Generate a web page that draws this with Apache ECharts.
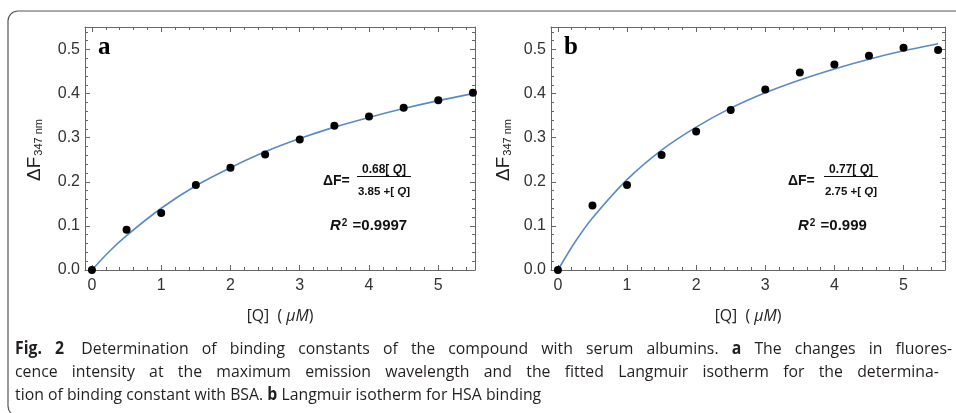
<!DOCTYPE html>
<html><head><meta charset="utf-8">
<script src="https://cdn.jsdelivr.net/npm/echarts@6/dist/echarts.min.js"></script>
<style>html,body{margin:0;padding:0;background:#fff}#c{width:956px;height:413px}</style>
</head><body><div id="c"></div>
<script>
// ---- data ----
const concentrations = [0, 0.5, 1, 1.5, 2, 2.5, 3, 3.5, 4, 4.5, 5, 5.5];
const bsaValues = [0, 0.091, 0.129, 0.193, 0.232, 0.262, 0.296, 0.327, 0.348, 0.368, 0.385, 0.402];
const hsaValues = [0, 0.146, 0.193, 0.261, 0.314, 0.363, 0.409, 0.448, 0.466, 0.486, 0.504, 0.499];
// fitted curves
const fitX = [0, 0.25, 0.5, 1, 1.5, 2, 2.5, 3, 3.5, 4, 4.5, 5, 5.5];
const bsaFit = [0, 0.042, 0.078, 0.140, 0.191, 0.232, 0.268, 0.298, 0.324, 0.346, 0.366, 0.384, 0.400];
const hsaFit = [0, 0.064, 0.118, 0.205, 0.272, 0.324, 0.367, 0.402, 0.431, 0.456, 0.478, 0.497, 0.513];
const panelLetters = ['a', 'b'];
const equationNumerators = ['0.68', '0.77'];
const equationDenominators = ['3.85', '2.75'];
const rSquared = ['0.9997', '0.999'];
const xTitle = '[Q]';
const yTitleMain = 'ΔF';
const yTitleSub = '347 nm';
// caption: lines of [text, bold] tokens
const captionLines = [
  [['Fig. 2', true], ['Determination of binding constants of the compound with serum albumins.', false], ['a', true], ['The changes in fluores-', false]],
  [['cence intensity at the maximum emission wavelength and the fitted Langmuir isotherm for the determina-', false]],
  [['tion of binding constant with BSA.', false], ['b', true], ['Langmuir isotherm for HSA binding', false]]
];

const FRAME = '#666';
const LABEL = '#333';
const FIT = '#5A8AC6';
const SANS = 'Liberation Sans, Arial, sans-serif';
const CAPFACE = 'Open Sans, sans-serif';
const CAPSIZE = 17;
const CAPSCALE = 0.93;

const cv = document.createElement('canvas').getContext('2d');
function w(font, t) { cv.font = font; return cv.measureText(t).width; }

const grids = [
  {left: 85, top: 27, width: 390, height: 243, xmax: 5.53},
  {left: 551, top: 27, width: 394, height: 243, xmax: 5.6}
];

function xAxisCfg(gi, xmax, pos) {
  return {
    type: 'value', gridIndex: gi, position: pos, min: -0.1, max: xmax, splitNumber: 5,
    axisLine: {show: true, onZero: false, lineStyle: {color: FRAME, width: 1}},
    axisTick: {show: true, inside: true, length: 5, lineStyle: {color: FRAME}},
    minorTick: {show: true, splitNumber: 5, length: 3, lineStyle: {color: FRAME}},
    splitLine: {show: false},
    axisLabel: {show: pos === 'bottom', showMinLabel: false, showMaxLabel: false, margin: 8,
      color: LABEL, fontSize: 16, fontFamily: SANS, formatter: v => String(Math.round(v))}
  };
}
function yAxisCfg(gi, pos) {
  return {
    type: 'value', gridIndex: gi, position: pos, min: 0, max: 0.551, splitNumber: 5,
    axisLine: {show: true, onZero: false, lineStyle: {color: FRAME, width: 1}},
    axisTick: {show: true, inside: true, length: 5, lineStyle: {color: FRAME}},
    minorTick: {show: true, splitNumber: 5, length: 3, lineStyle: {color: FRAME}},
    splitLine: {show: false},
    axisLabel: {show: pos === 'left', showMinLabel: true, showMaxLabel: false, margin: 5,
      color: LABEL, fontSize: 16, fontFamily: SANS, formatter: v => v.toFixed(1)}
  };
}

const xAxis = [], yAxis = [];
grids.forEach((g, i) => {
  xAxis.push(xAxisCfg(i, g.xmax, 'bottom'), xAxisCfg(i, g.xmax, 'top'));
  yAxis.push(yAxisCfg(i, 'left'), yAxisCfg(i, 'right'));
});

const measured = [bsaValues, hsaValues];
const fits = [bsaFit, hsaFit];
const series = [];
grids.forEach((g, i) => {
  series.push({
    type: 'line', xAxisIndex: 2 * i, yAxisIndex: 2 * i, smooth: 0.3, symbol: 'none',
    lineStyle: {color: FIT, width: 1.6}, z: 2, silent: true,
    data: fitX.map((x, k) => [x, fits[i][k]])
  });
  series.push({
    type: 'scatter', xAxisIndex: 2 * i, yAxisIndex: 2 * i, symbolSize: 8, z: 3, clip: false,
    itemStyle: {color: '#000', opacity: 1},
    data: concentrations.map((x, k) => [x, measured[i][k]])
  });
});

// annotation positions
const eqPos = [{x: 323, numX: 384, bar: [357, 411]}, {x: 788, numX: 851, bar: [824, 878]}];
const graphic = [];
graphic.push({type: 'rect', shape: {x: 8, y: 11, width: 1000, height: 405, r: 10},
  style: {fill: 'none', stroke: '#555', lineWidth: 1.2}, silent: true});
grids.forEach((g, i) => {
  const e = eqPos[i];
  graphic.push({type: 'text', x: g.left + 13, y: 48, style: {text: panelLetters[i],
    font: 'bold 25px Liberation Serif, Times New Roman, serif', fill: '#000', textVerticalAlign: 'middle'}});
  graphic.push({type: 'text', x: e.x, y: 181, style: {text: 'ΔF=', font: 'bold 14px ' + SANS,
    fill: '#111', textVerticalAlign: 'middle'}});
  graphic.push({type: 'text', x: e.numX, y: 170, style: {
    text: equationNumerators[i] + '[ {i|Q}]', font: 'bold 12px ' + SANS, fill: '#111',
    textAlign: 'center', textVerticalAlign: 'middle',
    rich: {i: {font: 'italic bold 12px ' + SANS, fill: '#111'}}}});
  graphic.push({type: 'line', shape: {x1: e.bar[0], y1: 176.5, x2: e.bar[1], y2: 176.5},
    style: {stroke: '#111', lineWidth: 1}});
  graphic.push({type: 'text', x: e.numX, y: 192, style: {
    text: equationDenominators[i] + ' +[ {i|Q}]', font: 'bold 11.5px ' + SANS, fill: '#111',
    textAlign: 'center', textVerticalAlign: 'middle',
    rich: {i: {font: 'italic bold 11.5px ' + SANS, fill: '#111'}}}});
  graphic.push({type: 'text', x: [330, 798][i], y: 226, style: {
    text: '{r|R}{s|2}{n| =' + rSquared[i] + '}', textVerticalAlign: 'middle',
    rich: {
      r: {font: 'italic bold 15px ' + SANS, fill: '#111'},
      s: {font: 'bold 10px ' + SANS, fill: '#111', verticalAlign: 'top', padding: [0, 1, 6, 1]},
      n: {font: 'bold 15px ' + SANS, fill: '#111'}
    }}});
  // x axis title
  graphic.push({type: 'text', x: g.left + g.width / 2, y: 316, scaleX: CAPSCALE, style: {
    text: xTitle + '  ( {m|μM})', font: '17px ' + CAPFACE, fill: '#222',
    textAlign: 'center', textVerticalAlign: 'middle',
    rich: {m: {font: 'italic 17px ' + CAPFACE, fill: '#222'}}}});
  // y axis title
  graphic.push({type: 'text', x: [35, 504][i], y: 150, rotation: Math.PI / 2, style: {
    text: '{a|' + yTitleMain + '}{b|' + yTitleSub + '}', textAlign: 'center', textVerticalAlign: 'middle',
    rich: {
      a: {font: '19px ' + SANS, fill: '#222', verticalAlign: 'bottom'},
      b: {font: '11px ' + SANS, fill: '#222', verticalAlign: 'bottom', padding: [0, 0, 0, 1]}
    }}});
});

// caption: first two lines justified between the frame margins, last line ragged
const capY = [349, 372, 395];
const capRight = [952, 943, null];
const fontN = CAPSIZE + 'px ' + CAPFACE, fontB = 'bold ' + CAPSIZE + 'px ' + CAPFACE;
captionLines.forEach((tokens, k) => {
  const words = [];
  tokens.forEach(([t, bold], ti) => {
    t.split(' ').forEach(wd => words.push({t: wd, bold, lead: (k === 0 && ti === 1 && words.length === 2) ? 1 : 0}));
  });
  const widths = words.map(o => w(o.bold ? fontB : fontN, o.t) * CAPSCALE);
  const space = w(fontN, ' ') * CAPSCALE;
  let gap = space;
  if (capRight[k] !== null) {
    const sum = widths.reduce((a, b) => a + b, 0);
    gap = (capRight[k] - 15 - sum - space) / (words.length - 1 + 0);
  }
  let x = 15;
  words.forEach((o, j) => {
    graphic.push({type: 'text', x: x, y: capY[k], scaleX: CAPSCALE, style: {
      text: o.t, font: o.bold ? fontB : fontN, fill: '#231f20', textVerticalAlign: 'middle'}});
    x += widths[j] + gap + (k === 0 && j === 1 ? space : 0);
  });
});

const chart = echarts.init(document.getElementById('c'), null, {renderer: 'canvas'});
chart.setOption({
  animation: false,
  backgroundColor: '#fff',
  grid: grids.map(g => ({left: g.left, top: g.top, width: g.width, height: g.height, containLabel: false})),
  xAxis, yAxis, series, graphic
});
</script></body></html>
